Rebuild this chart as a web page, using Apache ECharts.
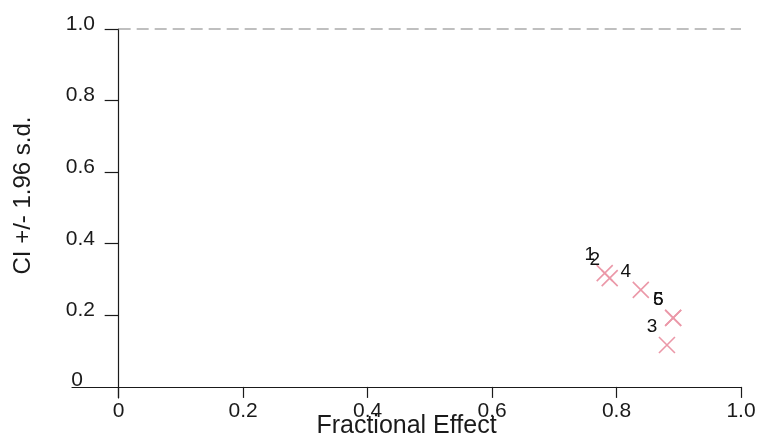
<!DOCTYPE html>
<html>
<head>
<meta charset="utf-8">
<script src="https://cdn.jsdelivr.net/npm/echarts@6/dist/echarts.min.js"></script>
<style>html,body{margin:0;padding:0;background:#fff}#c{width:760px;height:439px}</style>
</head>
<body>
<div id="c"></div>
<script>
const pointLabels = ['1', '2', '3', '4', '5', '6'];
const fractionalEffect = [0.781, 0.789, 0.881, 0.839, 0.891, 0.891];
const ciWidth = [0.318, 0.304, 0.117, 0.271, 0.193, 0.193];
const xTicks = [0, 0.2, 0.4, 0.6, 0.8, 1.0];
const yTicks = [0, 0.2, 0.4, 0.6, 0.8, 1.0];
const refLineY = 1.0;

const FONT = 'Liberation Sans, Arial, sans-serif';
const chart = echarts.init(document.getElementById('c'));
chart.setOption({
  animation: false,
  backgroundColor: '#ffffff',
  grid: { left: 72, right: 19, top: 29, bottom: 41, containLabel: false, outerBoundsMode: 'none' },
  xAxis: {
    type: 'value', min: -0.075, max: 1.0,
    splitLine: { show: false },
    axisLine: { onZero: true, lineStyle: { color: '#1a1a1a', width: 1.2 } },
    axisTick: { customValues: xTicks, length: 11, lineStyle: { color: '#1a1a1a', width: 1.2 } },
    axisLabel: {
      customValues: xTicks, margin: 3, color: '#1a1a1a', fontSize: 21, fontFamily: FONT,
      formatter: v => (v === 0 ? '0' : v.toFixed(1))
    },
    name: 'Fractional Effect', nameLocation: 'middle', nameGap: 16, nameMoveOverlap: false,
    nameTextStyle: { fontSize: 25, color: '#1a1a1a', fontFamily: FONT }
  },
  yAxis: {
    type: 'value', min: -0.031, max: 1.0,
    splitLine: { show: false },
    axisLine: { onZero: true, lineStyle: { color: '#1a1a1a', width: 1.2 } },
    axisTick: { customValues: yTicks.filter(v => v > 0), length: 14, lineStyle: { color: '#1a1a1a', width: 1.2 } },
    axisLabel: {
      customValues: yTicks, margin: -23, color: '#1a1a1a', fontSize: 21, fontFamily: FONT,
      padding: [0, 0, 10, 0],
      formatter: v => (v === 0 ? '{z|0}' : v.toFixed(1)),
      rich: { z: { fontSize: 21, fontFamily: FONT, color: '#1a1a1a', padding: [0, 12, 4, 0] } }
    },
    name: 'CI +/- 1.96 s.d.', nameLocation: 'middle', nameGap: 37, nameRotate: 90, nameMoveOverlap: false,
    nameTextStyle: { fontSize: 24, color: '#1a1a1a', fontFamily: FONT, padding: [0, 0, 0, 36] }
  },
  series: [{
    type: 'scatter',
    data: fractionalEffect.map((x, i) => [x, ciWidth[i], pointLabels[i]]),
    symbol: 'path://M0,0L10,10M10,0L0,10',
    symbolSize: 16,
    itemStyle: { color: 'transparent', borderColor: '#eb98a8', borderWidth: 1.6, opacity: 1 },
    label: {
      show: true, position: 'inside', offset: [-15, -18],
      formatter: p => p.value[2], color: '#111', fontSize: 19, fontFamily: FONT
    },
    emphasis: { disabled: true },
    markLine: {
      silent: true, symbol: 'none', label: { show: false },
      lineStyle: { type: [12, 6], color: '#aaaaaa', width: 1.5 },
      data: [[{ coord: [0, refLineY] }, { coord: [1, refLineY] }]]
    }
  }]
});
</script>
</body>
</html>
